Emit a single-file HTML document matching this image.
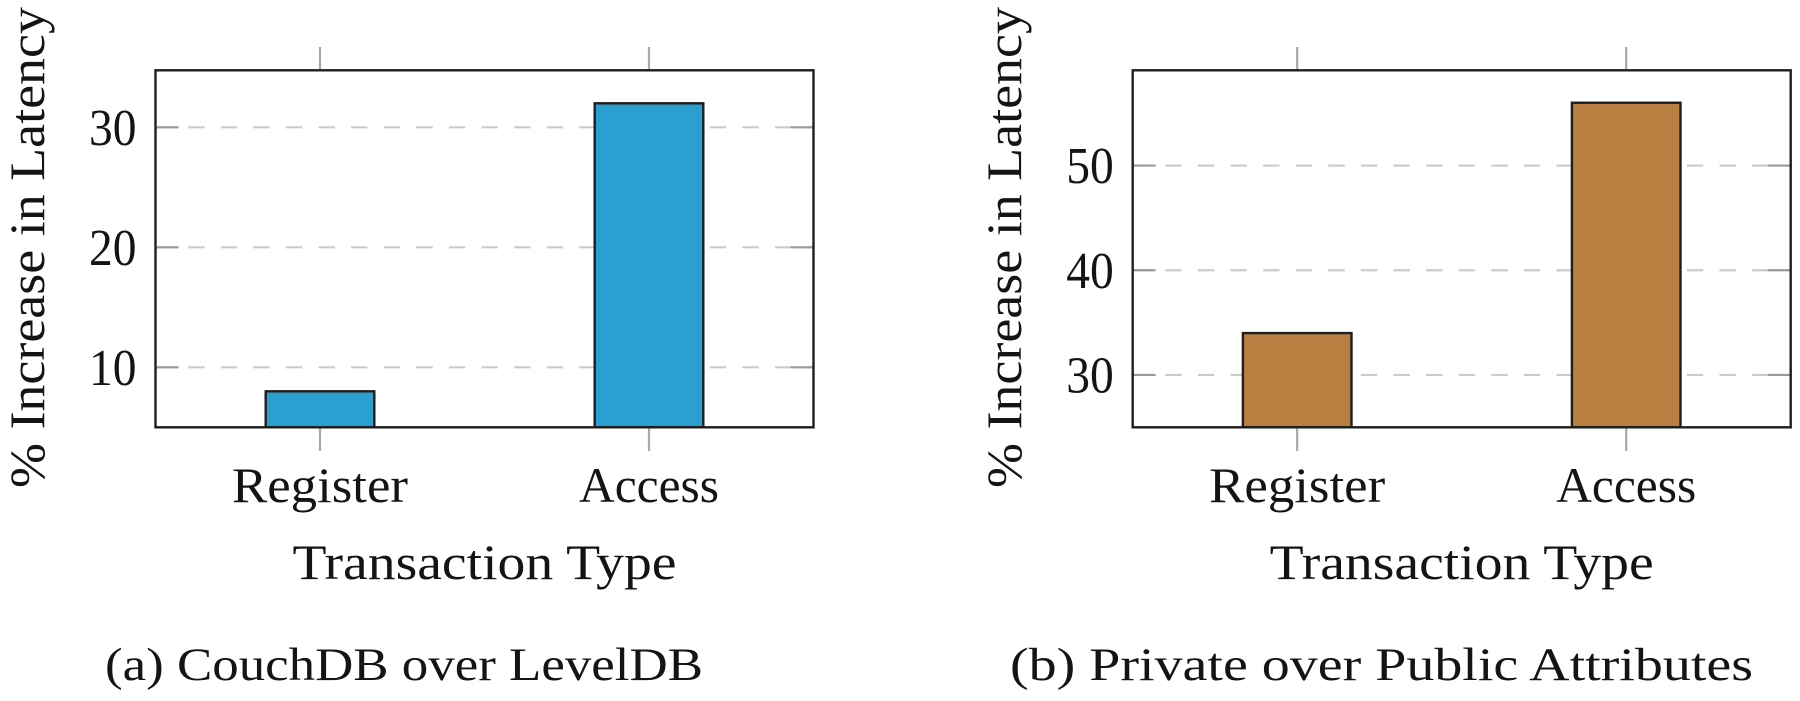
<!DOCTYPE html>
<html lang="en">
<head>
<meta charset="utf-8">
<title>Latency increase by transaction type</title>
<style>
html,body{margin:0;padding:0;background:#fff;width:1800px;height:701px;overflow:hidden}
svg{display:block}
text{font-family:"Liberation Serif",serif;fill:#141414}
</style>
</head>
<body>
<svg id="figure" xmlns="http://www.w3.org/2000/svg" width="1800" height="701" viewBox="0 0 1800 701"></svg>
<script>
const categories = ['Register', 'Access'];
const couchValues = [8, 32];
const privateValues = [34, 56];
const couchTicks = [10, 20, 30];
const privateTicks = [30, 40, 50];
const couchDomain = [5, 34.75];
const privateDomain = [25, 59.1];

const svg = document.getElementById('figure');
const NS = 'http://www.w3.org/2000/svg';

function make(parent, tag, name, attrs, content) {
  const el = document.createElementNS(NS, tag);
  
  
  for (const key in attrs) el.setAttribute(key, attrs[key]);
  if (content !== undefined) el.textContent = content;
  parent.appendChild(el);
  return el;
}

function fitted(parent, name, str, x, y, size, len, anchor, rotate) {
  const attrs = {
    x: x, y: y, 'font-size': size, 'text-anchor': anchor,
    textLength: len, lengthAdjust: 'spacingAndGlyphs'
  };
  if (rotate) attrs.transform = 'rotate(-90 ' + x + ' ' + y + ')';
  return make(parent, 'text', name, attrs, str);
}

function drawChart(id, opts) {
  const g = make(svg, 'g', id + '-chart', {});
  const L = opts.left, R = opts.right, T = 70.3, B = 427.3;
  const xScale = i => L + (R - L) * (i + 0.5) / categories.length;
  const yScale = v => B - (v - opts.domain[0]) / (opts.domain[1] - opts.domain[0]) * (B - T);
  const barW = 108.6;

  // grid lines and y ticks
  opts.ticks.forEach(t => {
    const y = yScale(t);
    make(g, 'line', id + '-gridline-' + t, {
      x1: L, x2: R, y1: y, y2: y, stroke: '#cbcbcb', 'stroke-width': 2.2,
      'stroke-dasharray': '16.4 16.2'
    });
  });

  // bars
  categories.forEach((c, i) => {
    const x = xScale(i), y = yScale(opts.values[i]);
    make(g, 'rect', id + '-bar-' + c.toLowerCase(), {
      x: x - barW / 2, y: y, width: barW, height: B - y,
      fill: opts.color, stroke: '#1e1e1e', 'stroke-width': 2.4
    });
  });

  opts.ticks.forEach(t => {
    const y = yScale(t);
    make(g, 'line', id + '-y-tick-left-' + t, { x1: L, x2: L + 23, y1: y, y2: y, stroke: '#9a9a9a', 'stroke-width': 2.2 });
    make(g, 'line', id + '-y-tick-right-' + t, { x1: R - 23, x2: R, y1: y, y2: y, stroke: '#9a9a9a', 'stroke-width': 2.2 });
    fitted(g, id + '-y-tick-label-' + t, String(t), L - 19, y + 17.5, 52, 47.5, 'end');
  });

  // x ticks and labels
  categories.forEach((c, i) => {
    const x = xScale(i);
    make(g, 'line', id + '-x-tick-top-' + c.toLowerCase(), { x1: x, x2: x, y1: 47, y2: T, stroke: '#a8a8a8', 'stroke-width': 2.2 });
    make(g, 'line', id + '-x-tick-bottom-' + c.toLowerCase(), { x1: x, x2: x, y1: B, y2: 451, stroke: '#a8a8a8', 'stroke-width': 2.2 });
    fitted(g, id + '-x-tick-label-' + c.toLowerCase(), c, x, 502, 50, i === 0 ? 176 : 140, 'middle');
  });

  // frame
  make(g, 'rect', id + '-plot-frame', {
    x: L, y: T, width: R - L, height: B - T,
    fill: 'none', stroke: '#1e1e1e', 'stroke-width': 2.4
  });

  fitted(g, id + '-x-axis-title', 'Transaction Type', (L + R) / 2, 579, 50, 384, 'middle');
  fitted(g, id + '-y-axis-title', '% Increase in Latency', opts.titleX, 247.5, 50, 481, 'middle', true);
  fitted(g, id + '-caption', opts.caption, opts.capX, 680, 47, opts.capLen, 'start');
}

drawChart('couchdb', {
  left: 155.5, right: 813.5, values: couchValues, ticks: couchTicks, domain: couchDomain,
  color: '#2a9fd0', titleX: 44, caption: '(a) CouchDB over LevelDB', capX: 105, capLen: 598
});
drawChart('private', {
  left: 1132.7, right: 1790.7, values: privateValues, ticks: privateTicks, domain: privateDomain,
  color: '#b97f41', titleX: 1021, caption: '(b) Private over Public Attributes', capX: 1010, capLen: 743
});
</script>
</body>
</html>
